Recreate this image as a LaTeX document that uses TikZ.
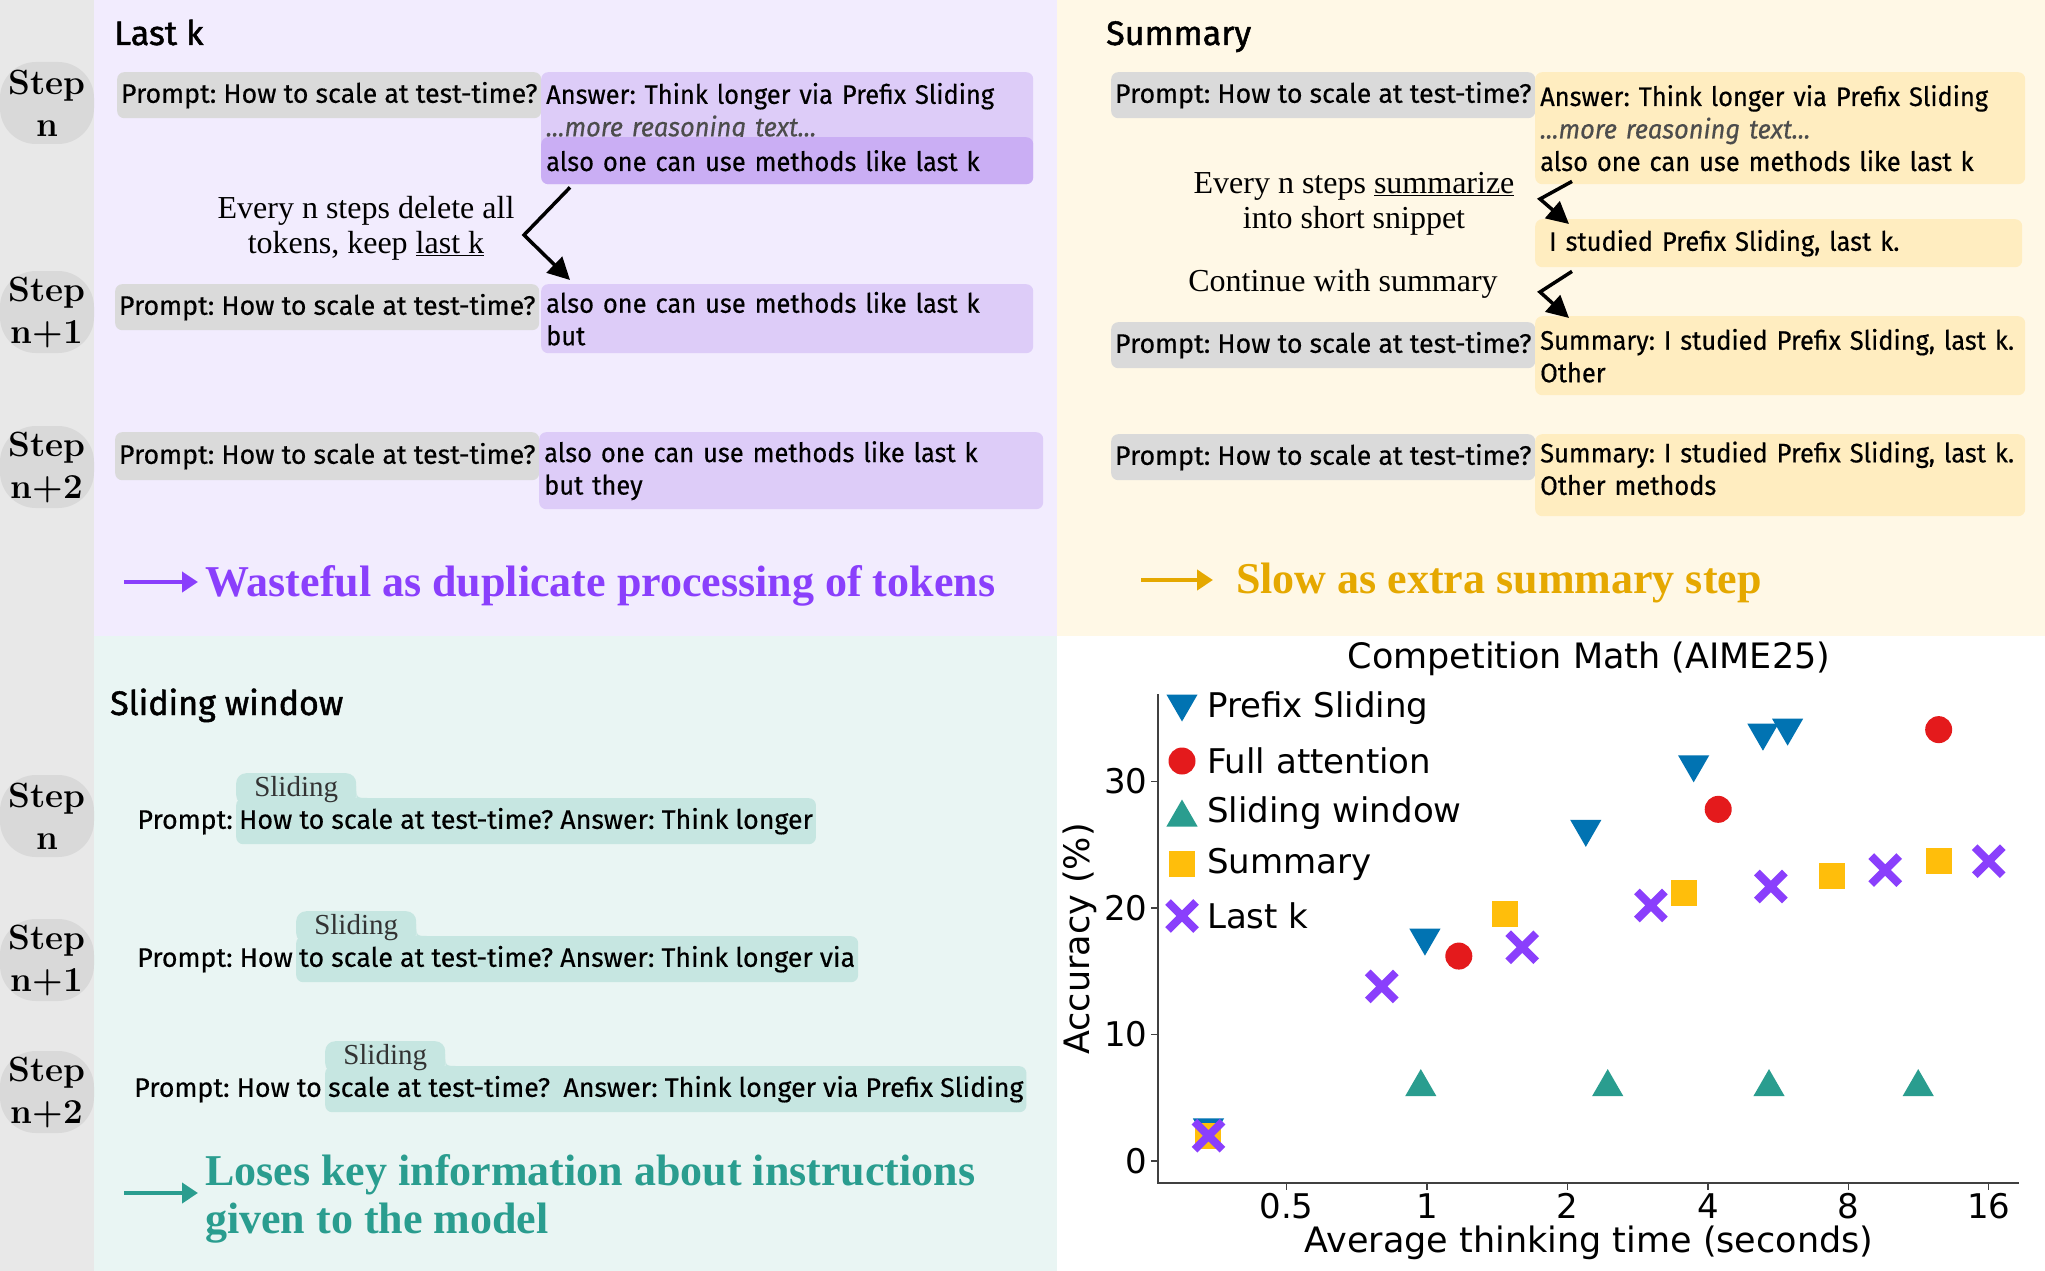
\documentclass[tikz,border=0pt]{standalone}
\usepackage{fontspec}
\setsansfont{Fira Sans}[FakeBold=0.4]
\newfontfamily\ansfont{Fira Sans}[FakeBold=0.4,FakeStretch=0.95]
\newfontfamily\headfont{Fira Sans}[FakeBold=1.4]
\newfontfamily\notefont{Liberation Serif}
\newfontfamily\plotfont{DejaVu Sans}
\usepackage{xcolor}
\usetikzlibrary{shapes.geometric,shapes.misc,arrows.meta,positioning,calc}

\definecolor{stripgray}{HTML}{E8E8E8}
\definecolor{pillgray}{HTML}{D9D9D9}
\definecolor{promptgray}{HTML}{DADADA}
\definecolor{lkbg}{HTML}{F2ECFE}
\definecolor{lkbox}{HTML}{DDCCF8}
\definecolor{lkdark}{HTML}{CAAEF4}
\definecolor{lkaccent}{HTML}{8A3FFC}
\definecolor{sumbg}{HTML}{FFF8E6}
\definecolor{sumbox}{HTML}{FFEDC0}
\definecolor{sumaccent}{HTML}{E5A800}
\definecolor{swbg}{HTML}{E9F5F3}
\definecolor{swbox}{HTML}{C6E6E1}
\definecolor{swaccent}{HTML}{2A9D8F}
\definecolor{pblue}{HTML}{0173B2}
\definecolor{pred}{HTML}{E41A1C}
\definecolor{pyellow}{HTML}{FFBE0B}

\newcommand{\fsz}[2]{\fontsize{#1}{#2}\selectfont}

\begin{document}
\frenchspacing
\begin{tikzpicture}[x=1pt,y=-1pt,
  declare function={tx(\x)=1427+140.4*ln(\x)/ln(2); vy(\x)=1161-12.65*\x;}]
  \tikzset{
    stepbox/.style={fill=pillgray,rounded corners=36pt,minimum width=94pt,minimum height=82pt,inner sep=0pt,align=center,font=\bfseries\fsz{35}{42}},
    paneltitle/.style={anchor=base west,inner sep=0pt,font=\headfont\fsz{34}{40}},
    prompt/.style={anchor=north west,fill=promptgray,rounded corners=7pt,minimum width=424pt,minimum height=46pt,inner sep=0pt,font=\sffamily\fsz{26.8}{32.5}},
    answer/.style={anchor=north west,fill=#1,rounded corners=7pt,inner xsep=5pt,inner ysep=0pt,align=left,font=\ansfont\fsz{26.8}{32.5}},
    note/.style={align=center,inner sep=0pt,font=\notefont\fsz{32}{35}},
    flow/.style={line width=3.5pt,-{Triangle[length=22pt,width=22pt]}},
    verdict/.style={anchor=west,inner sep=0pt,align=left,font=\notefont\bfseries\fsz{44}{48},text=#1},
    lead/.style={draw=#1,line width=4pt,-{Triangle[length=16pt,width=20pt]},shorten >=7pt},
    swbar/.style={anchor=north west,fill=swbox,rounded corners=7pt,inner xsep=3pt,inner ysep=0pt,minimum height=46pt,font=\sffamily\fsz{26.8}{32.5}},
    swpre/.style={anchor=base east,inner xsep=3pt,inner ysep=0pt,font=\sffamily\fsz{26.8}{32.5}},
    tab/.style={anchor=north west,fill=swbox,rounded corners=10pt,minimum width=120pt,minimum height=32pt,inner sep=0pt,text=black!80,font=\notefont\fsz{29}{30}},
    spine/.style={line width=1.5pt,draw=black!75},
    ticklab/.style={font=\plotfont\fsz{34}{36},inner sep=3pt},
    axlabel/.style={font=\plotfont\fsz{35}{40},inner sep=0pt},
    legtext/.style={anchor=west,inner sep=0pt,font=\plotfont\fsz{34}{40}},
    pfx/.style={regular polygon,regular polygon sides=3,shape border rotate=180,fill=pblue,minimum size=36pt,inner sep=0pt,yshift=4.5pt},
    full/.style={circle,fill=pred,minimum size=27pt,inner sep=0pt},
    swin/.style={regular polygon,regular polygon sides=3,fill=swaccent,minimum size=36pt,inner sep=0pt,yshift=-4.5pt},
    summ/.style={rectangle,fill=pyellow,minimum size=26pt,inner sep=0pt},
    lastk/.style={cross out,draw=lkaccent,line width=8pt,minimum size=20pt,inner sep=0pt}
  }
  \useasboundingbox (0,0) rectangle (2045,1271);
  \fill[stripgray] (0,0) rectangle (94,1271);
  \fill[lkbg] (94,0) rectangle (1057,636);
  \fill[sumbg] (1057,0) rectangle (2045,636);
  \fill[swbg] (94,636) rectangle (1057,1271);
  \fill[white] (1057,636) rectangle (2045,1271);

  \foreach \y/\s [count=\i] in {103/n,312/n+1,467/n+2,816/n,960/n+1,1092/n+2}
    \node[stepbox] (step\i) at (47,\y) {Step\\\s};

  \node[paneltitle] (lkTitle) at (114,45) {Last k};
  \node[prompt] (lkPromptA) at (117,72) {Prompt: How to scale at test-time?};
  \node[answer=lkbox,text width=482pt,minimum height=112pt] (lkAnsA) at (541,72)
    {\rule{0pt}{26pt}Answer: Think longer via Prefix Sliding\\{\itshape\color{black!70}...more reasoning text...}\\\strut};
  \node[answer=lkdark,text width=482pt,minimum height=47pt] (lkAnsHi) at (541,137) {also one can use methods like last k};
  \node[note] (lkNote) at (366,228) {Every n steps delete all\\tokens, keep \underline{last k}};
  \node[prompt] (lkPromptB) at (115,284) {Prompt: How to scale at test-time?};
  \node[answer=lkbox,text width=482pt,minimum height=69pt] (lkAnsB) at (541,284) {also one can use methods like last k\\but};
  \node[prompt,minimum height=48pt] (lkPromptC) at (115,432) {Prompt: How to scale at test-time?};
  \node[answer=lkbox,text width=494pt,minimum height=77pt] (lkAnsC) at (539,432) {also one can use methods like last k\\but they};
  \coordinate (lkBend) at (524,235);
  \draw[flow] ([xshift=29pt,yshift=-3pt]lkAnsHi.south west) -- (lkBend) -- ([xshift=29pt,yshift=4pt]lkAnsB.north west);
  \coordinate (lkLead) at (124,582);
  \node[verdict=lkaccent] (lkVerdict) at (205,586) {Wasteful as duplicate processing of tokens};
  \draw[lead=lkaccent] (lkLead) -- (lkVerdict.west |- lkLead);

  \node[paneltitle] (sumTitle) at (1106,45) {Summary};
  \node[prompt] (sumPromptA) at (1111,72) {Prompt: How to scale at test-time?};
  \node[answer=sumbox,text width=480pt,minimum height=112pt] (sumAnsA) at (1535,72)
    {Answer: Think longer via Prefix Sliding\\{\itshape\color{black!70}...more reasoning text...}\\also one can use methods like last k};
  \node[note] (sumNoteA) at (1354,204) {Every n steps \underline{summarize}\\into short snippet};
  \node[answer=sumbox,inner xsep=14pt,text width=459pt,minimum height=48pt] (sumSnip) at (1535,219) {I studied Prefix Sliding, last k.};
  \node[note] (sumNoteB) at (1343,284) {Continue with summary};
  \node[prompt] (sumPromptB) at (1111,322) {Prompt: How to scale at test-time?};
  \node[answer=sumbox,text width=480pt,minimum height=79pt] (sumAnsB) at (1535,316) {Summary: I studied Prefix Sliding, last k.\\Other};
  \node[prompt] (sumPromptC) at (1111,434) {Prompt: How to scale at test-time?};
  \node[answer=sumbox,text width=480pt,minimum height=82pt] (sumAnsC) at (1535,434) {Summary: I studied Prefix Sliding, last k.\\Other methods\rule[-14pt]{0pt}{0pt}};
  \coordinate (sumBendA) at (1540,199);
  \draw[flow] ([xshift=37pt,yshift=3pt]sumAnsA.south west) -- (sumBendA) -- ([xshift=34pt,yshift=-5pt]sumSnip.north west);
  \coordinate (sumBendB) at (1540,292);
  \draw[flow] ([xshift=37pt,yshift=-4pt]sumSnip.south west) -- (sumBendB) -- ([xshift=34pt,yshift=-2pt]sumAnsB.north west);
  \coordinate (sumLead) at (1141,580);
  \node[verdict=sumaccent] (sumVerdict) at (1236,583) {Slow as extra summary step};
  \draw[lead=sumaccent,shorten >=23pt] (sumLead) -- (sumVerdict.west |- sumLead);

  \node[paneltitle] (swTitle) at (110,715) {Sliding window};
  \foreach \i/\y/\x/\pre/\txt in {1/798/236/{Prompt:}/{How to scale at test-time? Answer: Think longer},
      2/936/296/{Prompt: How}/{to scale at test-time? Answer: Think longer via},
      3/1066/325/{Prompt: How to}/{scale at test-time?\enspace Answer: Think longer via Prefix Sliding}}{
    \node[swbar] (bar\i) at (\x,\y) {\txt};
    \node[swpre] (pre\i) at (bar\i.base west) {\pre};
    \node[tab] (tab\i) at (\x,\y-25) {Sliding};
    \fill[swbox] ($(tab\i.east |- bar\i.north)+(0,-12)$) .. controls (tab\i.east |- bar\i.north) .. ($(tab\i.east |- bar\i.north)+(12,0)$) -- (tab\i.east |- bar\i.north) -- cycle;
  }
  \coordinate (swLead) at (124,1193);
  \node[verdict=swaccent] (swVerdict) at (205,1199) {Loses key information about instructions\\given to the model};
  \draw[lead=swaccent] (swLead) -- (swVerdict.west |- swLead);

  \node[axlabel] (plotTitle) at (1589,659) {Competition Math (AIME25)};
  \coordinate (yTop) at (1158,694);
  \coordinate (orig) at (1158,1183);
  \coordinate (xEnd) at (2019,1183);
  \draw[spine] (yTop) -- (orig) -- (xEnd);
  \foreach \v in {0,10,20,30}
    \draw[spine] (1158,{vy(\v)}) -- ++(-7,0) node[ticklab,left] (ytick\v) {\v};
  \foreach \tm [count=\i] in {0.5,1,2,4,8,16}
    \draw[spine] ({tx(\tm)},1183) -- ++(0,7) node[ticklab,below] (xtick\i) {\tm};
  \node[axlabel] (xlab) at (1589,1243) {Average thinking time (seconds)};
  \node[axlabel,rotate=90] (ylab) at (1080,939) {Accuracy (\%)};

  \foreach \tm/\acc [count=\i] in {0.34/2.3,0.99/17.3,2.19/25.9,3.73/31,5.25/33.5,5.93/33.9}
    \node[pfx] (pfx\i) at ({tx(\tm)},{vy(\acc)}) {};
  \foreach \tm/\acc [count=\i] in {1.17/16.2,4.21/27.8,12.5/34.1}
    \node[full] (full\i) at ({tx(\tm)},{vy(\acc)}) {};
  \foreach \tm/\acc [count=\i] in {0.97/6.2,2.44/6.2,5.41/6.2,11.3/6.2}
    \node[swin] (swin\i) at ({tx(\tm)},{vy(\acc)}) {};
  \foreach \tm/\acc [count=\i] in {0.34/2,1.47/19.5,3.56/21.2,7.39/22.5,12.5/23.7}
    \node[summ] (summ\i) at ({tx(\tm)},{vy(\acc)}) {};
  \foreach \tm/\acc [count=\i] in {0.34/2,0.8/13.8,1.6/16.9,3.02/20.2,5.46/21.7,9.6/23,16/23.7}
    \node[lastk] (lastk\i) at ({tx(\tm)},{vy(\acc)}) {};

  \foreach \s/\name/\y [count=\i] in {pfx/Prefix Sliding/708,full/Full attention/761,swin/Sliding window/813,summ/Summary/864,lastk/Last k/916}{
    \node[\s] (key\i) at (1182,\y) {};
    \node[legtext] (keyText\i) at (1207,\y) {\name};
  }
\end{tikzpicture}
\end{document}
